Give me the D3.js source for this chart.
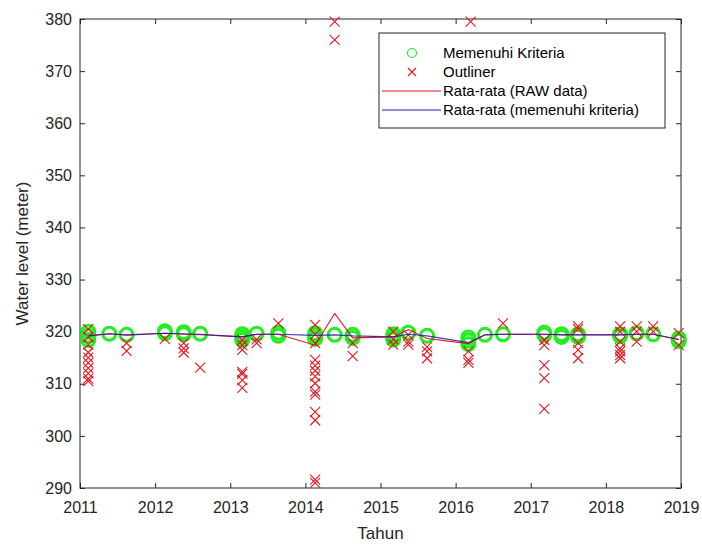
<!DOCTYPE html>
<html><head><meta charset="utf-8">
<script src="https://cdn.jsdelivr.net/npm/d3@7"></script>
<style>body{margin:0;background:#fff}svg{display:block;font-family:"Liberation Sans",Arial,sans-serif}</style>
</head><body><svg id="c" width="702" height="545"></svg>
<script>
const xTickYears = [2011,2012,2013,2014,2015,2016,2017,2018,2019];
const yTickValues = [290,300,310,320,330,340,350,360,370,380];
const seriesNames = ["Memenuhi Kriteria","Outliner","Rata-rata (RAW data)","Rata-rata (memenuhi kriteria)"];

// survey dates (fractional year)
const dates = [2011.11,2011.39,2011.62,2012.13,2012.38,2012.60,2013.16,2013.35,2013.64,2014.13,2014.39,2014.63,2015.17,2015.37,2015.62,2016.17,2016.39,2016.63,2017.18,2017.41,2017.63,2018.19,2018.41,2018.63,2018.97];
const filteredMean = [319.2,319.6,319.4,319.7,319.6,319.5,319.0,319.5,319.5,319.3,319.4,319.2,319.0,319.5,319.2,317.9,319.4,319.5,319.5,319.4,319.4,319.4,319.5,319.5,318.5];
const rawMean = [319.2,319.6,319.3,319.7,319.5,319.4,319.0,319.5,319.5,317.4,323.5,318.8,319.0,320.4,318.7,317.7,319.4,319.5,319.5,319.4,319.4,319.4,319.5,319.5,318.5];

// points meeting the criteria
const goodDates = [2011.11,2011.11,2011.11,2011.39,2011.62,2012.13,2012.13,2012.38,2012.38,2012.60,2013.16,2013.16,2013.16,2013.35,2013.64,2013.64,2014.13,2014.13,2014.13,2014.39,2014.63,2014.63,2015.17,2015.17,2015.17,2015.37,2015.62,2016.17,2016.17,2016.17,2016.39,2016.63,2017.18,2017.18,2017.41,2017.41,2017.63,2017.63,2018.19,2018.19,2018.41,2018.63,2018.97,2018.97];
const goodValues = [318.4,319.2,320.0,319.6,319.4,319.7,320.1,319.5,319.9,319.6,318.4,319.0,319.5,319.6,319.2,319.8,318.6,319.2,319.7,319.4,318.8,319.4,318.5,319.0,319.5,319.8,319.2,317.6,318.3,318.9,319.4,319.5,319.4,319.8,319.0,319.5,319.0,319.5,319.1,319.5,319.7,319.5,318.2,318.7];

// outliers
const outDates = [2011.11,2011.11,2011.11,2011.11,2011.11,2011.11,2011.11,2011.11,2011.11,2011.11,
  2011.62,2011.62,2012.13,2012.38,2012.38,2012.38,2012.60,
  2013.16,2013.16,2013.16,2013.16,2013.16,2013.16,2013.16,2013.35,2013.35,2013.64,
  2014.13,2014.13,2014.13,2014.13,2014.13,2014.13,2014.13,2014.13,2014.13,2014.13,2014.13,2014.13,2014.13,2014.13,
  2014.39,2014.39,2014.63,2014.63,
  2015.17,2015.17,2015.17,2015.37,2015.37,2015.37,2015.62,2015.62,2015.62,
  2016.17,2016.17,2016.17,2016.20,2016.63,
  2017.18,2017.18,2017.18,2017.18,2017.18,2017.63,2017.63,2017.63,2017.63,2017.63,
  2018.19,2018.19,2018.19,2018.19,2018.19,2018.19,2018.19,2018.41,2018.41,2018.41,2018.63,2018.63,2018.97,2018.97];
const outValues = [320.5,319.0,317.5,316.0,315.0,314.0,313.0,312.0,311.0,310.5,
  317.8,316.3,318.6,317.8,316.8,316.0,313.1,
  318.4,317.4,316.5,312.3,311.9,310.7,309.2,317.8,318.5,321.6,
  321.3,319.5,317.8,314.6,313.5,312.5,311.4,310.1,308.5,307.9,304.6,303.0,291.6,291.0,
  379.5,376.0,317.8,315.3,
  320.0,318.5,317.5,319.4,318.1,317.5,317.1,316.2,314.9,
  316.2,314.6,314.0,379.5,321.6,
  318.4,317.4,313.6,311.1,305.2,321.0,320.5,317.8,316.5,314.9,
  321.0,320.0,318.1,316.8,316.2,315.5,314.9,321.0,320.0,318.1,321.0,320.0,319.7,317.4];

const svg = d3.select("#c");
const L=80,R=681,T=19,B=488;
const x = d3.scaleLinear().domain([2011,2019]).range([L,R]);
const y = d3.scaleLinear().domain([290,380]).range([B,T]);
const axisCol = "#262626";

// axes
const xa = svg.append("g").attr("transform",`translate(0,${B})`)
  .call(d3.axisBottom(x).tickValues(xTickYears).tickFormat(d3.format("d")).tickSizeInner(-5).tickSizeOuter(0).tickPadding(14));
const xt = svg.append("g").attr("transform",`translate(0,${T})`)
  .call(d3.axisTop(x).tickValues(xTickYears).tickFormat("").tickSizeInner(-5).tickSizeOuter(0));
const ya = svg.append("g").attr("transform",`translate(${L},0)`)
  .call(d3.axisLeft(y).tickValues(yTickValues).tickFormat(d3.format("d")).tickSizeInner(-5).tickSizeOuter(0).tickPadding(8));
const yr = svg.append("g").attr("transform",`translate(${R},0)`)
  .call(d3.axisRight(y).tickValues(yTickValues).tickFormat("").tickSizeInner(-5).tickSizeOuter(0));
[xa,xt,ya,yr].forEach(g=>{
  g.select(".domain").remove();
  g.selectAll("line").attr("stroke",axisCol);
  g.selectAll("text").attr("fill",axisCol).style("font-size","16px").style("font-family","'Liberation Sans',Arial,sans-serif");
});
xa.selectAll("text").attr("dy","0.71em");
svg.append("rect").attr("x",L).attr("y",T).attr("width",R-L).attr("height",B-T)
  .attr("fill","none").attr("stroke",axisCol).attr("stroke-width",1);

// axis labels
svg.append("text").attr("x",(L+R)/2).attr("y",539).attr("text-anchor","middle")
  .attr("fill",axisCol).style("font-size","17px").text("Tahun");
svg.append("text").attr("transform",`translate(28,${(T+B)/2}) rotate(-90)`).attr("text-anchor","middle")
  .attr("fill",axisCol).style("font-size","17px").text("Water level (meter)");

const plot = svg.append("g");
// green circles
plot.selectAll("circle.g").data(goodDates.map((d,i)=>[d,goodValues[i]])).join("circle")
  .attr("cx",d=>x(d[0])).attr("cy",d=>y(d[1])).attr("r",6.5)
  .attr("fill","none").attr("stroke","#22ee22").attr("stroke-width",3);
// red crosses
const cs=5;
plot.selectAll("path.x").data(outDates.map((d,i)=>[d,outValues[i]])).join("path")
  .attr("d",d=>{const cx=x(d[0]),cy=y(d[1]);return `M${cx-cs},${cy-cs}L${cx+cs},${cy+cs}M${cx-cs},${cy+cs}L${cx+cs},${cy-cs}`;})
  .attr("stroke","#e8141e").attr("stroke-width",1.1).attr("fill","none");
// lines
const line = d3.line().x(d=>x(d[0])).y(d=>y(d[1]));
plot.append("path").attr("d",line(dates.map((d,i)=>[d,rawMean[i]])))
  .attr("fill","none").attr("stroke","#e8141e").attr("stroke-width",1.1);
plot.append("path").attr("d",line(dates.map((d,i)=>[d,filteredMean[i]])))
  .attr("fill","none").attr("stroke","#1c1ca8").attr("stroke-width",1.2).attr("opacity",0.85);

// legend
const lg = svg.append("g");
lg.append("rect").attr("x",379).attr("y",33).attr("width",286).attr("height",95)
  .attr("fill","#fff").attr("stroke",axisCol).attr("stroke-width",1);
const rows=[53,72,91,110];
const tx=443;
lg.append("circle").attr("cx",412).attr("cy",rows[0]).attr("r",4.5).attr("fill","none").attr("stroke","#22ee22").attr("stroke-width",1.2);
lg.append("path").attr("d",`M${408},${rows[1]-4}L${416},${rows[1]+4}M${408},${rows[1]+4}L${416},${rows[1]-4}`).attr("stroke","#e8141e").attr("stroke-width",1.1);
lg.append("line").attr("x1",382).attr("x2",441).attr("y1",rows[2]).attr("y2",rows[2]).attr("stroke","#e8141e").attr("stroke-width",1.1);
lg.append("line").attr("x1",382).attr("x2",441).attr("y1",rows[3]).attr("y2",rows[3]).attr("stroke","#1c1ca8").attr("stroke-width",1.1);
seriesNames.forEach((n,i)=>{
  lg.append("text").attr("x",tx).attr("y",rows[i]).attr("dy","0.35em").attr("fill","#000")
    .style("font-size","15px").text(n);
});
</script></body></html>
